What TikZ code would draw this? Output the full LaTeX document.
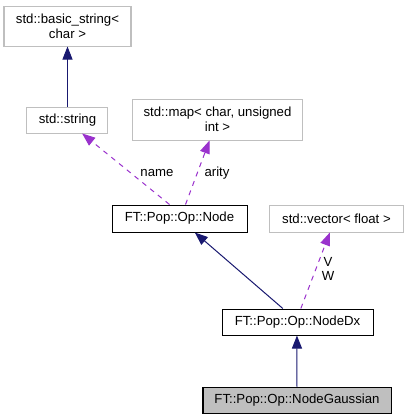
\documentclass[tikz,border=0pt]{standalone}
\usepackage{fontspec}
\setmainfont{Liberation Sans}
\usetikzlibrary{arrows.meta}
\definecolor{extgray}{HTML}{BFBFBF}
\definecolor{inhblue}{HTML}{191970}
\definecolor{usepurple}{HTML}{9A32CD}
\tikzset{
  box/.style={draw, line width=0.75pt, inner sep=0pt, align=center, font=\fontsize{9.9pt}{11pt}\selectfont},
  extbox/.style={box, draw=extgray},
  clsbox/.style={box, draw=black},
  inherit/.style={draw=inhblue, line width=0.75pt, -{Triangle[length=9.75pt,width=7.5pt]}},
  usage/.style={draw=usepurple, line width=0.75pt, dash pattern=on 3.75pt off 3.75pt, -{Triangle[length=9.75pt,width=7.5pt]}},
  elabel/.style={inner sep=0pt, align=center, font=\fontsize{9.9pt}{10.5pt}\selectfont}
}
\begin{document}
\begin{tikzpicture}[x=0.75pt,y=-0.75pt]
\useasboundingbox (0,0) rectangle (409,419);
\node[extbox, minimum width=95.25pt, minimum height=30pt] (bs) at (67.5,26) {std::basic\_string\textless\\char \textgreater};
\node[extbox, minimum width=60.75pt, minimum height=19.5pt] (str) at (67.5,120) {std::string};
\node[extbox, minimum width=128.25pt, minimum height=30.75pt] (map) at (217.5,119.5) {std::map\textless{} char, unsigned\\int \textgreater};
\node[clsbox, minimum width=101.25pt, minimum height=20.25pt] (node) at (179.5,218.5) {FT::Pop::Op::Node};
\node[extbox, minimum width=99.75pt, minimum height=20.25pt] (vec) at (336.5,218.5) {std::vector\textless{} float \textgreater};
\node[clsbox, minimum width=113.25pt, minimum height=19.5pt] (dx) at (297.5,322) {FT::Pop::Op::NodeDx};
\node[clsbox, fill=extgray, minimum width=141pt, minimum height=19.5pt] (ga) at (297,400) {FT::Pop::Op::NodeGaussian};

\draw[inherit] (str.north) -- (bs.south);
\draw[usage] ([xshift=-7.5pt]node.north) -- ([xshift=11pt]str.south);
\draw[usage] ([xshift=4.5pt]node.north) -- ([xshift=-6pt]map.south);
\draw[inherit] ([xshift=-11pt]dx.north) -- ([xshift=11.5pt]node.south);
\draw[usage] ([xshift=2.5pt]dx.north) -- ([xshift=-5pt]vec.south);
\draw[inherit] (ga.north) -- ([xshift=-0.4pt]dx.south);

\node[elabel] (lname) at (157,173) {name};
\node[elabel] (larity) at (217,173) {arity};
\node[elabel] (lvw) at (328,269) {V\\W};
\end{tikzpicture}
\end{document}
